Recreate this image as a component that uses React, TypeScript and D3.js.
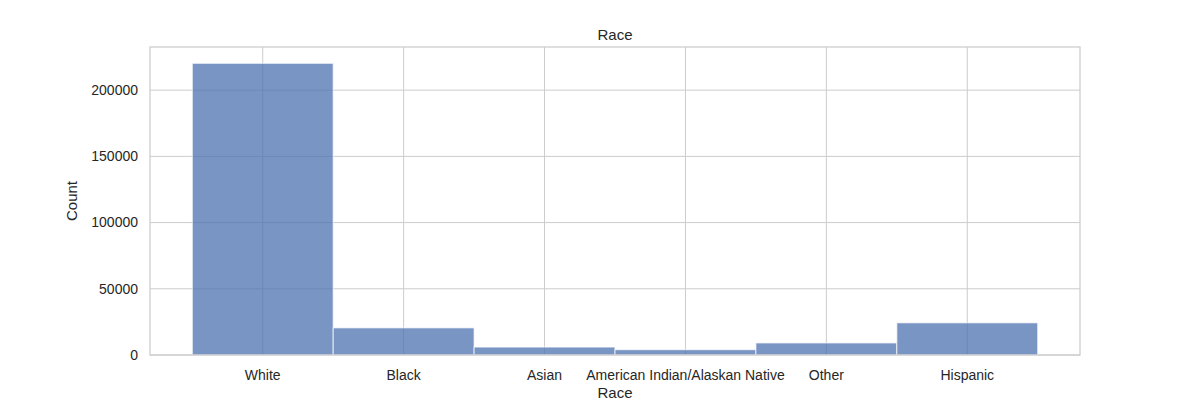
import React from 'react';
import * as d3 from 'd3';

// Race categories and their counts
const categories = ['White', 'Black', 'Asian', 'American Indian/Alaskan Native', 'Other', 'Hispanic'];
const counts = [220300, 20500, 6000, 4000, 9100, 24300];
const yTicks = [0, 50000, 100000, 150000, 200000];

const App = () => {
  const W = 1200, H = 400;
  const margin = { top: 47, right: 120, bottom: 45, left: 150 };
  const x0 = margin.left, x1 = W - margin.right;
  const y0 = H - margin.bottom, y1 = margin.top;

  const x = d3.scaleLinear().domain([-0.8, categories.length - 0.2]).range([x0, x1]);
  const y = d3.scaleLinear().domain([0, 232600]).range([y0, y1]);

  const font = 'Liberation Sans, Arial, sans-serif';
  const ink = '#262626';

  return (
    <svg width={W} height={H} style={{ position: 'absolute', left: 0, top: 0 }} fontFamily={font}>
      <rect width={W} height={H} fill="#fff" />
      {/* grid */}
      {yTicks.map(t => (
        <line key={'gy' + t} x1={x0} x2={x1} y1={y(t)} y2={y(t)} stroke="#cccccc" strokeWidth={1} />
      ))}
      {categories.map((c, i) => (
        <line key={'gx' + c} x1={x(i)} x2={x(i)} y1={y1} y2={y0} stroke="#cccccc" strokeWidth={1} />
      ))}
      {/* bars */}
      {counts.map((v, i) => (
        <rect key={'b' + i} x={x(i - 0.5)} width={x(i + 0.5) - x(i - 0.5)} y={y(v)} height={y0 - y(v)}
          fill="#4c72b0" fillOpacity={0.75} stroke="#ffffff" strokeOpacity={0.75} strokeWidth={1} />
      ))}
      {/* spines */}
      <rect x={x0} y={y1} width={x1 - x0} height={y0 - y1} fill="none" stroke="#cccccc" strokeWidth={1.25} />
      {/* tick labels */}
      {yTicks.map(t => (
        <text key={'ty' + t} x={x0 - 12} y={y(t)} dy="0.35em" textAnchor="end" fontSize={14} fill={ink}>{t}</text>
      ))}
      {categories.map((c, i) => (
        <text key={'tx' + c} x={x(i)} y={y0 + 25} textAnchor="middle" fontSize={14} fill={ink}>{c}</text>
      ))}
      {/* labels */}
      <text x={(x0 + x1) / 2} y={y0 + 43} textAnchor="middle" fontSize={15} fill={ink}>Race</text>
      <text transform={`translate(77,${(y0 + y1) / 2}) rotate(-90)`} textAnchor="middle" fontSize={15} fill={ink}>Count</text>
      <text x={(x0 + x1) / 2} y={y1 - 7} textAnchor="middle" fontSize={15} fill={ink}>Race</text>
    </svg>
  );
};

export default App;
